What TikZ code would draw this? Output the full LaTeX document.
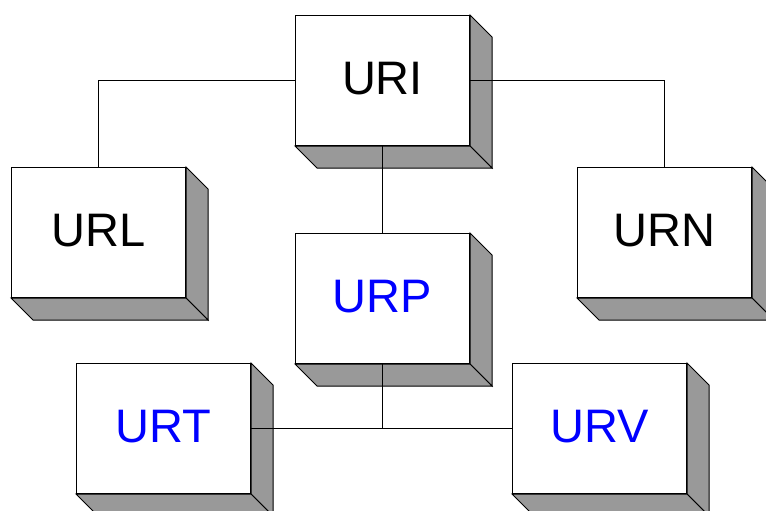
\documentclass[tikz,border=0pt]{standalone}
\usepackage{fontspec}
\setmainfont{Liberation Sans}
\usetikzlibrary{calc}
\definecolor{shade}{RGB}{153,153,153}
\definecolor{ink}{RGB}{0,0,255}
\begin{document}
\begin{tikzpicture}[x=1pt,y=-1pt,
  face/.style={draw=black, line width=1pt, fill=white,
    minimum width=174pt, minimum height=130pt, inner sep=0pt,
    text depth=5pt, anchor=north west,
    font=\fontsize{47}{47}\selectfont},
  blueface/.style={face, text=ink},
  slab/.style={fill=shade, draw=black, line width=1pt, line join=miter},
  link/.style={draw=black, line width=1pt}]
\useasboundingbox (0,0) rectangle (766,511);
\clip (0,0) rectangle (766,511);

% front faces
\node[face]     (uri) at (295,15)  {URI};
\node[face]     (url) at (11,167)  {URL};
\node[face]     (urn) at (577,167) {URN};
\node[blueface] (urp) at (295,233) {URP};
\node[blueface] (urt) at (76,363)  {URT};
\node[blueface] (urv) at (512,363) {URV};

% shaded side and bottom faces
\foreach \n in {uri,url,urn,urp,urt,urv}{
  \draw[slab] (\n.north east) -- ++(22,22) -- ($(\n.south east)+(22,22)$)
    -- (\n.south east) -- cycle;
  \draw[slab] (\n.south west) -- (\n.south east) -- ++(22,22)
    -- ($(\n.south west)+(22,22)$) -- cycle;
}

% connectors
\draw[link] (uri.west) -| (url.north);
\draw[link] (uri.east) -| (urn.north);
\draw[link] (uri.south) -- (urp.north);
\draw[link] (urp.south) |- (urt.east);
\draw[link] (urp.south) |- (urv.west);
\end{tikzpicture}
\end{document}
